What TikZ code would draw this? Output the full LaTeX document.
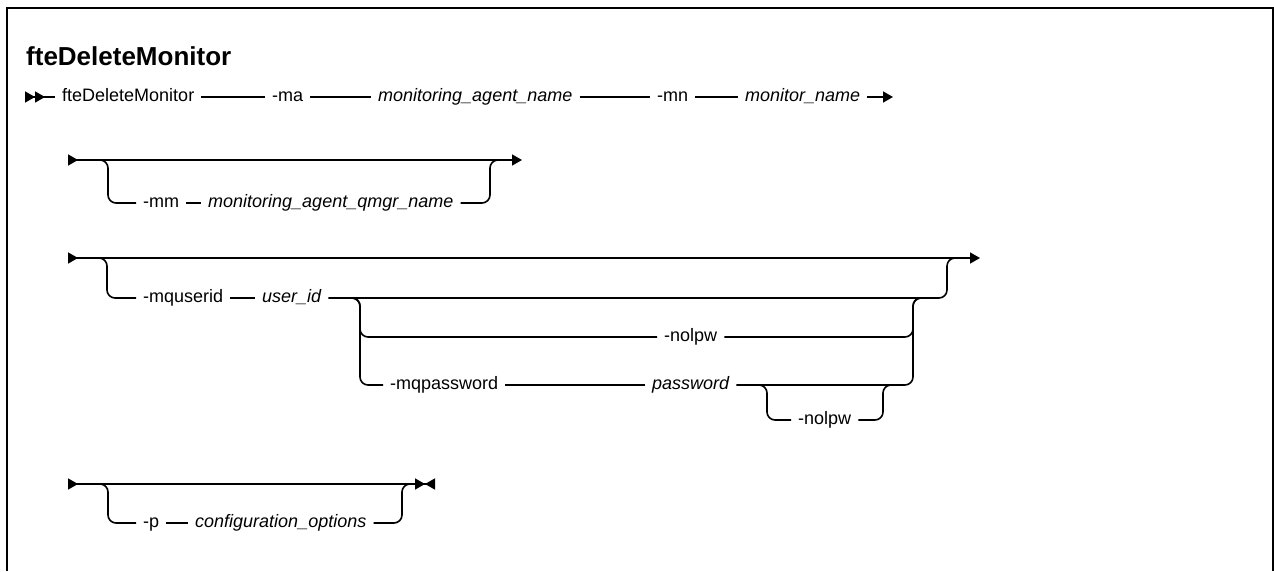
\documentclass[tikz,border=0pt]{standalone}
\usepackage{fontspec}
\setmainfont{Liberation Sans}
\usetikzlibrary{arrows.meta}

\begin{document}
\begin{tikzpicture}
  [x=1pt, y=-1pt, >={Triangle[length=10pt,width=11pt]},
   rail/.style={line width=1.6pt, rounded corners=8pt},
   term/.style={anchor=west, inner xsep=7pt, inner ysep=0pt, text height=13pt, text depth=4pt, font=\fontsize{18}{22}\selectfont},
   var/.style={term, font=\fontsize{18}{22}\selectfont\itshape}]

  \useasboundingbox (0,0) rectangle (1274,571);
  \draw[line width=2pt] (7,571) -- (7,8) -- (1273,8) -- (1273,571);

  \node[anchor=west, inner sep=0pt, font=\fontsize{26}{30}\selectfont\bfseries] (title) at (26,56) {fteDeleteMonitor};

  % row 1
  \coordinate (r1s) at (25,97);
  \coordinate (r1e) at (893,97);
  \node[term] (fte) at (55,97) {fteDeleteMonitor};
  \node[term] (ma) at (265,97) {-ma};
  \node[var] (agent) at (371,97) {monitoring\_agent\_name};
  \node[term] (mn) at (650,97) {-mn};
  \node[var] (mname) at (738,97) {monitor\_name};

  \draw[rail, >>-] (r1s) -- (fte);
  \foreach \from/\to in {fte/ma, ma/agent, agent/mn, mn/mname}
    \draw[rail] (\from) -- (\to);
  \draw[rail, ->] (mname) -- (r1e);

  % row 2
  \coordinate (r2s) at (68,160);
  \coordinate (r2e) at (522,160);
  \coordinate (b2a) at (100,160);
  \coordinate (b2b) at (490,160);
  \node[term] (mm) at (136,203) {-mm};
  \node[var] (qmgr) at (201,203) {monitoring\_agent\_qmgr\_name};

  \draw[rail, >->] (r2s) -- (r2e);
  \draw[rail] (b2a) -| ++(8,43) -- (mm);
  \draw[rail] (mm) -- (qmgr);
  \draw[rail] (qmgr) -| (b2b) -- ++(8,0);

  % row 3
  \coordinate (r3s) at (68,258);
  \coordinate (r3e) at (980,258);
  \coordinate (b3a) at (99,258);
  \coordinate (b3b) at (947,258);
  \coordinate (c3a) at (352,298);
  \coordinate (c3b) at (913,298);
  \coordinate (d3a) at (759,385);
  \coordinate (d3b) at (883,385);
  \node[term] (muid) at (136,298) {-mquserid};
  \node[var] (uid) at (255,298) {user\_id};
  \node[term] (nolpwA) at (657,337) {-nolpw};
  \node[term] (mqpw) at (383,385) {-mqpassword};
  \node[var] (pw) at (645,385) {password};
  \node[term] (nolpwB) at (791,420) {-nolpw};

  \draw[rail, >->] (r3s) -- (r3e);
  \draw[rail] (b3a) -| ++(8,40) -- (muid);
  \draw[rail] (muid) -- (uid);
  \draw[rail] (uid) -| (b3b) -- ++(8,0);
  \draw[rail] (c3a) -| ++(8,39) -- (nolpwA);
  \draw[rail] (c3a) -| ++(8,87) -- (mqpw);
  \draw[rail] (mqpw) -- (pw);
  \draw[rail] (nolpwA) -| (c3b) -- ++(8,0);
  \draw[rail] (pw) -| (c3b) -- ++(8,0);
  \draw[rail] (d3a) -| ++(8,35) -- (nolpwB);
  \draw[rail] (nolpwB) -| (d3b) -- ++(8,0);

  % row 4
  \coordinate (r4s) at (68,484);
  \coordinate (r4e) at (435,484);
  \coordinate (b4a) at (100,484);
  \coordinate (b4b) at (402,484);
  \node[term] (p) at (136,523) {-p};
  \node[var] (conf) at (188,523) {configuration\_options};

  \draw[rail, >-><] (r4s) -- (r4e);
  \draw[rail] (b4a) -| ++(8,39) -- (p);
  \draw[rail] (p) -- (conf);
  \draw[rail] (conf) -| (b4b) -- ++(8,0);
\end{tikzpicture}
\end{document}
